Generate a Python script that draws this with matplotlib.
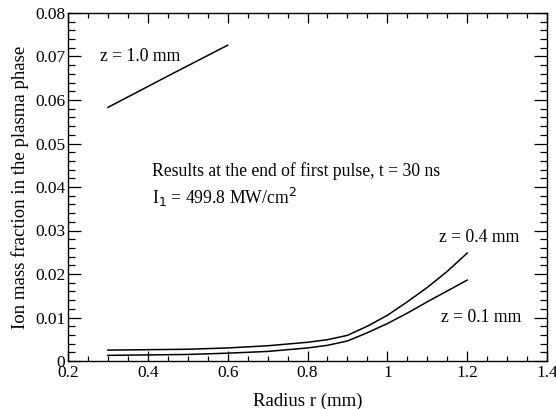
import matplotlib
matplotlib.use("Agg")
import matplotlib.pyplot as plt
from matplotlib.ticker import MultipleLocator, FixedLocator, FixedFormatter

plt.rcParams['font.family'] = ['Liberation Serif', 'DejaVu Serif']

r_z10 = [0.3, 0.45, 0.6]
f_z10 = [0.0583, 0.0655, 0.0726]

r_z04 = [0.3, 0.4, 0.5, 0.6, 0.7, 0.8, 0.85, 0.9, 0.95, 1.0, 1.05, 1.1, 1.15, 1.2]
f_z04 = [0.0025, 0.0026, 0.0027, 0.0030, 0.0035, 0.0043, 0.0049, 0.0059,
         0.0080, 0.0105, 0.0136, 0.0169, 0.0206, 0.0248]

r_z01 = [0.3, 0.4, 0.5, 0.6, 0.7, 0.8, 0.85, 0.9, 0.95, 1.0, 1.05, 1.1, 1.15, 1.2]
f_z01 = [0.0013, 0.0014, 0.0015, 0.0018, 0.0022, 0.0030, 0.0036, 0.0046,
         0.0065, 0.0086, 0.0110, 0.0136, 0.0161, 0.0186]

xticks = [0.2, 0.4, 0.6, 0.8, 1.0, 1.2, 1.4]
xticklabels = ["0.2", "0.4", "0.6", "0.8", "1", "1.2", "1.4"]
yticks = [0, 0.01, 0.02, 0.03, 0.04, 0.05, 0.06, 0.07, 0.08]
yticklabels = ["0", "0.01", "0.02", "0.03", "0.04", "0.05", "0.06", "0.07", "0.08"]

fig = plt.figure(figsize=(5.56, 4.09), dpi=100)
ax = fig.add_axes([68/556, 1-361/409, (547-68)/556, (361-13)/409])

for r, f in [(r_z10, f_z10), (r_z04, f_z04), (r_z01, f_z01)]:
    ax.plot(r, f, color='black', lw=1.1)

ax.set_xlim(0.2, 1.4)
ax.set_ylim(0, 0.08)
ax.xaxis.set_major_locator(FixedLocator(xticks))
ax.xaxis.set_major_formatter(FixedFormatter(xticklabels))
ax.yaxis.set_major_locator(FixedLocator(yticks))
ax.yaxis.set_major_formatter(FixedFormatter(yticklabels))
ax.xaxis.set_minor_locator(MultipleLocator(0.05))
ax.yaxis.set_minor_locator(MultipleLocator(0.002))
ax.tick_params(which='both', direction='in', top=True, right=True, labelsize=12.5, width=0.9)
ax.tick_params(axis='x', which='major', length=7.2, pad=3)
ax.tick_params(axis='x', which='minor', length=3.6)
ax.tick_params(axis='y', which='major', length=9.4, pad=2)
ax.tick_params(axis='y', which='minor', length=5)
for s in ax.spines.values():
    s.set_linewidth(1.0)

ax.set_xlabel("Radius r (mm)", fontsize=13.5, labelpad=8)
ax.set_ylabel("Ion mass fraction in the plasma phase", fontsize=13.5, labelpad=4)

fs = 12.7
ax.text(0.28, 0.0699, "z = 1.0 mm", fontsize=fs, va='center')
ax.text(0.41, 0.0437, "Results at the end of first pulse, t = 30 ns", fontsize=fs, va='center')
ax.text(0.41, 0.0377, r"I$_1$ = 499.8 MW/cm$^2$", fontsize=fs, va='center')
ax.text(1.13, 0.0283, "z = 0.4 mm", fontsize=fs, va='center')
ax.text(1.135, 0.0101, "z = 0.1 mm", fontsize=fs, va='center')

fig.savefig("out.png", dpi=100)
